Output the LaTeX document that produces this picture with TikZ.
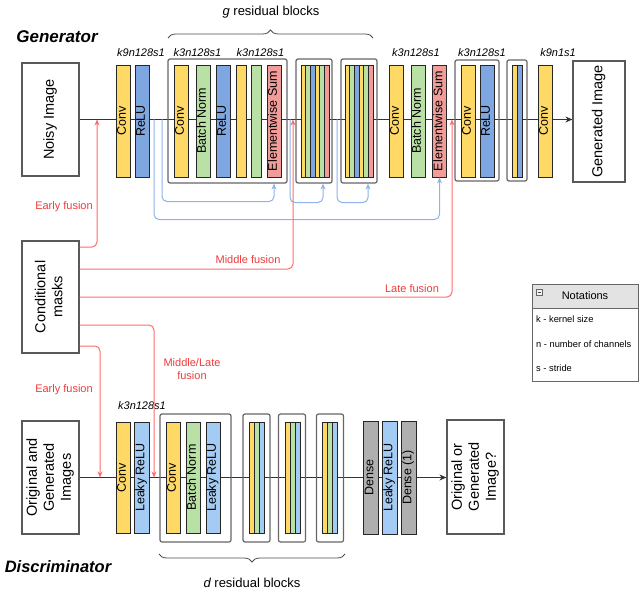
\documentclass[tikz,border=0pt]{standalone}
\usepackage{fontspec}
\setmainfont{Liberation Sans}
\usetikzlibrary{arrows.meta, backgrounds, decorations.pathreplacing}

\definecolor{convc}{HTML}{FFD966}
\definecolor{bnc}{HTML}{B9E0A5}
\definecolor{reluc}{HTML}{7EA6E0}
\definecolor{lreluc}{HTML}{A4CBF3}
\definecolor{sumc}{HTML}{F19C99}
\definecolor{densec}{HTML}{AFAFAF}
\definecolor{fusc}{HTML}{FF6B6B}
\definecolor{fustext}{HTML}{F03A3A}
\definecolor{skipc}{HTML}{8DB3E8}

\newcommand{\vlabel}[1]{\rotatebox{90}{\begin{tabular}{@{}c@{}}#1\end{tabular}}}

\begin{document}
\begin{tikzpicture}[x=1pt, y=-1pt,
    layer/.style={draw=black!85, line width=0.8pt, minimum width=14pt, minimum height=112pt, inner sep=0pt, font=\fontsize{12.5}{14}\selectfont},
    iobox/.style={draw=black!65, line width=1.2pt, fill=white, inner sep=0pt, font=\fontsize{14.5}{17}\selectfont},
    block/.style={draw=black!60, line width=1.2pt, rounded corners=2pt, inner sep=0pt},
    stripe/.style={draw=black!85, line width=0.7pt},
    spec/.style={font=\fontsize{11}{13}\selectfont\itshape},
    fusion/.style={draw=fusc, line width=1pt, rounded corners=5pt, -{Stealth[length=6pt,width=5pt,fill=fustext]}},
    fuslabel/.style={text=fustext, align=center, font=\fontsize{11}{13}\selectfont},
    skip/.style={draw=skipc, line width=1pt, rounded corners=5pt, -{Stealth[length=6pt,width=5pt]}},
    mainline/.style={draw=black!80, line width=0.8pt, -{Stealth[length=7pt,width=6pt]}},
    brace/.style={draw=black!70, line width=0.8pt, decorate, decoration={brace, amplitude=8pt}},
    note/.style={anchor=west, inner sep=0pt, font=\fontsize{9.3}{11}\selectfont}
]
    \useasboundingbox (0,0) rectangle (640,591);

    % Titles
    \node at (57,37) [font=\fontsize{17}{20}\selectfont\bfseries\itshape] (gtitle) {Generator};
    \node at (58,567) [font=\fontsize{16.5}{20}\selectfont\bfseries\itshape] (dtitle) {Discriminator};

    % Generator
    \node at (50.5,119.5) [iobox, minimum width=57pt, minimum height=113pt] (noisy) {\vlabel{Noisy Image}};
    \node at (123,121) [layer, fill=convc] (gconv0) {\vlabel{Conv}};
    \node at (142,121) [layer, fill=reluc] (grelu0) {\vlabel{ReLU}};

    \node at (227.5,121) [block, minimum width=119pt, minimum height=124pt] (rb1) {};
    \node at (181,121) [layer, fill=convc] (gconv1) {\vlabel{Conv}};
    \node at (203,121) [layer, fill=bnc] (gbn1) {\vlabel{Batch Norm}};
    \node at (223,121) [layer, fill=reluc] (grelu1) {\vlabel{ReLU}};
    \node at (241,121) [layer, fill=convc, minimum width=10pt] (gconv1b) {};
    \node at (256,121) [layer, fill=bnc, minimum width=10pt] (gbn1b) {};
    \node at (274,121) [layer, fill=sumc] (gsum1) {\vlabel{Elementwise Sum}};

    \node at (314,121) [block, minimum width=36pt, minimum height=124pt] (cb1) {};
    \node at (359,121) [block, minimum width=36pt, minimum height=124pt] (cb2) {};
    \foreach \c [count=\i from 0] in {convc,bnc,reluc,convc,bnc,sumc} {
        \draw[stripe, fill=\c] (301+4.67*\i,65) rectangle ++(4.67,112);
        \draw[stripe, fill=\c] (345+4.67*\i,65) rectangle ++(4.67,112);
    }

    \node at (396,121) [layer, fill=convc] (gconv2) {\vlabel{Conv}};
    \node at (418,121) [layer, fill=bnc] (gbn2) {\vlabel{Batch Norm}};
    \node at (439.5,121) [layer, fill=sumc] (gsum2) {\vlabel{Elementwise Sum}};

    \node at (477,120.5) [block, minimum width=44pt, minimum height=121pt] (ub) {};
    \node at (468,121) [layer, fill=convc] (gconv3) {\vlabel{Conv}};
    \node at (487,121) [layer, fill=reluc] (grelu3) {\vlabel{ReLU}};

    \node at (517,120.5) [block, minimum width=20pt, minimum height=121pt] (sb) {};
    \draw[stripe, fill=convc] (512,65) rectangle ++(5,112);
    \draw[stripe, fill=reluc] (517,65) rectangle ++(5,112);

    \node at (545,121) [layer, fill=convc] (gconv4) {\vlabel{Conv}};
    \node at (599,121.5) [iobox, minimum width=52pt, minimum height=121pt] (genimg) {\vlabel{Generated Image}};

    % Layer specs
    \node at (141,53) [spec] (s0) {k9n128s1};
    \node at (197.5,53) [spec] (s1) {k3n128s1};
    \node at (260.5,53) [spec] (s2) {k3n128s1};
    \node at (416,53) [spec] (s3) {k3n128s1};
    \node at (482,53) [spec] (s4) {k3n128s1};
    \node at (558,53) [spec] (s5) {k9n1s1};

    % g residual blocks
    \draw[brace] (168,38) -- (373,38);
    \node at (271,12) [font=\fontsize{13}{15}\selectfont] (gres) {{\itshape g} residual blocks};

    % Discriminator
    \node at (50.5,477.5) [iobox, minimum width=57pt, minimum height=113pt] (orig) {\vlabel{Original and\\Generated\\Images}};
    \node at (123,477.5) [layer, fill=convc, minimum height=111pt] (dconv0) {\vlabel{Conv}};
    \node at (141.5,477.5) [layer, fill=lreluc, minimum width=15pt, minimum height=111pt] (dlrelu0) {\vlabel{Leaky ReLU}};

    \node at (195.5,478) [block, minimum width=71pt, minimum height=128pt] (drb) {};
    \node at (173,477.5) [layer, fill=convc, minimum height=111pt] (dconv1) {\vlabel{Conv}};
    \node at (193,477.5) [layer, fill=bnc, minimum height=111pt] (dbn1) {\vlabel{Batch Norm}};
    \node at (213,477.5) [layer, fill=lreluc, minimum height=111pt] (dlrelu1) {\vlabel{Leaky ReLU}};

    \node at (256.5,478) [block, minimum width=27pt, minimum height=128pt] (cbd1) {};
    \node at (292,478) [block, minimum width=27pt, minimum height=128pt] (cbd2) {};
    \node at (330,478) [block, minimum width=27pt, minimum height=128pt] (cbd3) {};
    \foreach \x in {249,285,322} {
        \foreach \c [count=\i from 0] in {convc,bnc,lreluc}
            \draw[stripe, fill=\c] (\x+5*\i,422) rectangle ++(5,111);
    }

    \node at (370.5,477.5) [layer, fill=densec, minimum width=15pt, minimum height=113pt] (dense1) {\vlabel{Dense}};
    \node at (389.5,477.5) [layer, fill=lreluc, minimum width=15pt, minimum height=113pt] (dlrelu2) {\vlabel{Leaky ReLU}};
    \node at (408.5,477.5) [layer, fill=densec, minimum width=15pt, minimum height=113pt] (dense2) {\vlabel{Dense (1)}};
    \node at (475.5,477) [iobox, minimum width=57pt, minimum height=114pt] (out) {\vlabel{Original or\\Generated\\Image?}};

    \node at (142,406) [spec] (s6) {k3n128s1};

    % d residual blocks
    \draw[brace] (345,554) -- (159,554);
    \node at (252,583) [font=\fontsize{13}{15}\selectfont] (dres) {{\itshape d} residual blocks};

    % Main data paths
    \begin{scope}[on background layer]
        \draw[mainline] (noisy.east) -- (noisy.east -| genimg.west);
        \draw[mainline] (orig.east) -- (orig.east -| out.west);
    \end{scope}

    % Skip connections
    \coordinate (ska) at (154,119.5);
    \coordinate (skb) at (162,119.5);
    \coordinate (skc) at (290,119.5);
    \coordinate (skd) at (337,119.5);
    \draw[skip] (skb) -- ++(0,82) -| (gsum1 |- rb1.south);
    \draw[skip] (ska) -- ++(0,100) -| (gsum2.south);
    \draw[skip] (skc) -- ++(0,83) -| ([xshift=9pt]cb1.south);
    \draw[skip] (skd) -- ++(0,83) -| ([xshift=9pt]cb2.south);

    % Conditional masks and fusion
    \node at (50.5,297) [iobox, minimum width=57pt, minimum height=112pt] (masks) {\vlabel{Conditional\\masks}};
    \coordinate (gearly) at (97,119.5);
    \coordinate (gmid) at (293,119.5);
    \coordinate (glate) at (452,119.5);
    \coordinate (dmid) at (154,477.5);
    \coordinate (dearly) at (100,477.5);
    \draw[fusion] ([yshift=50pt]masks.east) -| (gearly);
    \draw[fusion] ([yshift=28pt]masks.east) -| (gmid);
    \draw[fusion] (masks.east) -| (glate);
    \draw[fusion] ([yshift=-28pt]masks.east) -| (dmid);
    \draw[fusion] ([yshift=-49pt]masks.east) -| (dearly);
    \node at (64,207) [fuslabel] (lef) {Early fusion};
    \node at (248,260) [fuslabel] (lmf) {Middle fusion};
    \node at (412,289) [fuslabel] (llf) {Late fusion};
    \node at (192,369) [fuslabel] (lml) {Middle/Late\\fusion};
    \node at (64,390) [fuslabel] (ldef) {Early fusion};

    % Notations
    \node at (585,296) [draw=black!60, line width=1pt, fill=gray!22, minimum width=106pt, minimum height=24pt, font=\fontsize{11}{13}\selectfont] (notahead) {Notations};
    \node at (585,344.5) [draw=black!60, line width=1pt, minimum width=106pt, minimum height=73pt] (notabody) {};
    \draw[black!60, fill=gray!10] (536,289) rectangle (542,295);
    \draw[black!70] (537.5,292) -- (540.5,292);
    \node at (536,319) [note] (nk) {k - kernel size};
    \node at (536,344) [note] (nn) {n - number of channels};
    \node at (536,368) [note] (ns) {s - stride};
\end{tikzpicture}
\end{document}
